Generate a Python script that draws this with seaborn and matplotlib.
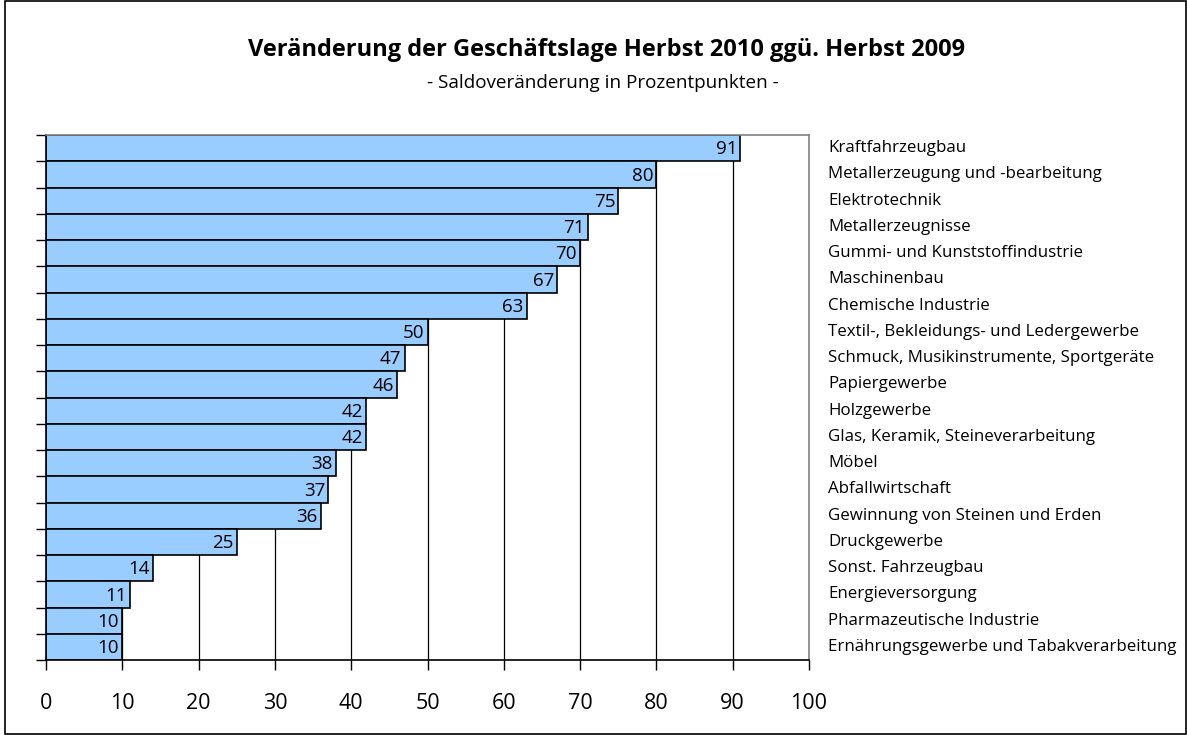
import matplotlib
matplotlib.use("Agg")
import matplotlib.pyplot as plt
import seaborn as sns
import pandas as pd
import numpy as np
from matplotlib.patches import Rectangle

categories = [
    "Kraftfahrzeugbau",
    "Metallerzeugung und -bearbeitung",
    "Elektrotechnik",
    "Metallerzeugnisse",
    "Gummi- und Kunststoffindustrie",
    "Maschinenbau",
    "Chemische Industrie",
    "Textil-, Bekleidungs- und Ledergewerbe",
    "Schmuck, Musikinstrumente, Sportgeräte",
    "Papiergewerbe",
    "Holzgewerbe",
    "Glas, Keramik, Steineverarbeitung",
    "Möbel",
    "Abfallwirtschaft",
    "Gewinnung von Steinen und Erden",
    "Druckgewerbe",
    "Sonst. Fahrzeugbau",
    "Energieversorgung",
    "Pharmazeutische Industrie",
    "Ernährungsgewerbe und Tabakverarbeitung",
]
values = [91, 80, 75, 71, 70, 67, 63, 50, 47, 46, 42, 42, 38, 37, 36, 25, 14, 11, 10, 10]
x_ticks = [0, 10, 20, 30, 40, 50, 60, 70, 80, 90, 100]

title = "Veränderung der Geschäftslage Herbst 2010 ggü. Herbst 2009"
subtitle = "- Saldoveränderung in Prozentpunkten -"

sns.set_theme(style="white")
plt.rcParams['font.family'] = ['Open Sans', 'DejaVu Sans']
plt.rcParams['text.color'] = 'black'
plt.rcParams['xtick.color'] = 'black'
plt.rcParams['ytick.color'] = 'black'

df = pd.DataFrame({"cat": categories, "val": values})

fig = plt.figure(figsize=(11.87, 7.35), dpi=100)
ax = fig.add_axes([46/1187, 1-660/735, (809-46)/1187, (660-135)/735])

for t in x_ticks[1:-1]:
    ax.axvline(t, color="black", lw=0.9, zorder=0)

sns.barplot(data=df, y="cat", x="val", orient="h", color="#99CCFF",
            edgecolor="black", linewidth=1.2, width=1.0, saturation=1, ax=ax, zorder=2)

for i, v in enumerate(values):
    ax.text(v - 0.4, i + 0.05, str(v), ha="right", va="center", fontsize=13.5, color="black", zorder=3)

ax.set_xlim(0, 100)
ax.set_ylim(len(categories) - 0.5, -0.5)
ax.set_xlabel("")
ax.set_ylabel("")
ax.set_xticks(x_ticks)
ax.set_xticklabels([str(t) for t in x_ticks], fontsize=15.5)
ax.tick_params(axis="x", direction="out", length=7, width=1, color="black", pad=17, bottom=True)
ax.set_yticks([])
ax.set_yticks(np.arange(-0.5, len(categories), 1.0), minor=True)
ax.tick_params(axis="y", which="minor", direction="out", length=7, width=1, color="black", left=True)
ax.tick_params(axis="y", which="major", left=False, labelleft=False)

for s in ["left", "bottom"]:
    ax.spines[s].set_color("black")
    ax.spines[s].set_linewidth(1.2)
for s in ["top", "right"]:
    ax.spines[s].set_color("#808080")
    ax.spines[s].set_linewidth(1.2)

for i, c in enumerate(categories):
    ax.annotate(c, xy=(1, i), xycoords=("axes fraction", "data"), xytext=(19, 0),
                textcoords="offset pixels", ha="left", va="center", fontsize=12.2, color="black")

fig.text(607/1187, 1 - 50/735, title, ha="center", va="center", fontsize=17, fontweight="bold", color="black")
fig.text(603/1187, 1 - 83/735, subtitle, ha="center", va="center", fontsize=13.6, color="black")

fig.patches.append(Rectangle((5/1187, 0.002), 1 - 6/1187, 0.996, transform=fig.transFigure,
                             fill=False, edgecolor="black", lw=1.2))

fig.savefig("out.png", dpi=100)
